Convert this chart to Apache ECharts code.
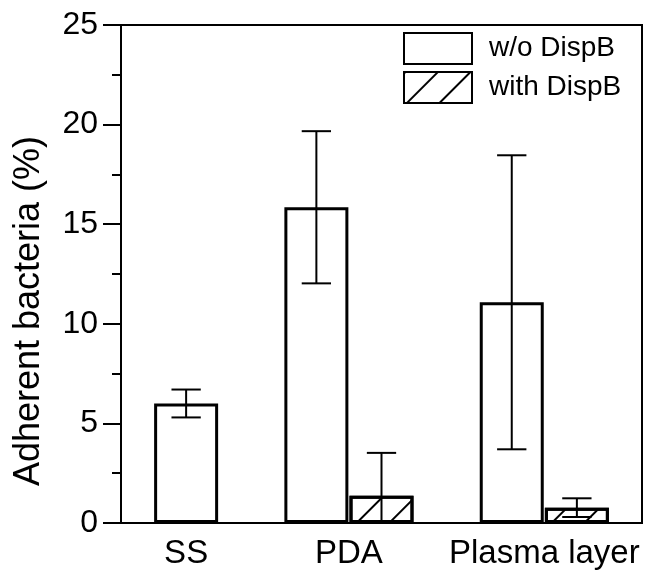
<!DOCTYPE html>
<html>
<head>
<meta charset="utf-8">
<script src="https://cdn.jsdelivr.net/npm/echarts@6/dist/echarts.min.js"></script>
<style>
  html, body { margin: 0; padding: 0; background: #fff; }
  #chart { width: 646px; height: 571px; }
</style>
</head>
<body>
<div id="chart"></div>
<script>
// groups and where their labels / bars sit on the x scale (bar width = 1 unit)
const categories = ['SS', 'PDA', 'Plasma layer'];
const labelPos = [1, 3.5, 6.5];
const woPos = [1, 3, 6];
const withPos = [2, 4, 7];

// adherent bacteria (%), mean and error
const woMean = [6.0, 15.85, 11.08];
const woErr = [0.7, 3.82, 7.38];
const withMean = [0, 1.37, 0.77];
const withErr = [0, 2.15, 0.47];

const seriesNames = ['w/o DispB', 'with DispB'];
const font = 'Liberation Sans, Arial, sans-serif';

const chart = echarts.init(document.getElementById('chart'));

// error bars: vertical whisker + two caps
function renderErr(params, api) {
  const x = api.value(0), m = api.value(1), e = api.value(2);
  if (!e) return null;
  const top = api.coord([x, m + e]);
  const bot = api.coord([x, m - e]);
  const half = api.size([0.225, 0])[0];
  const st = { stroke: '#000', lineWidth: 2 };
  return {
    type: 'group',
    children: [
      { type: 'line', shape: { x1: top[0], y1: top[1], x2: bot[0], y2: bot[1] }, style: st },
      { type: 'line', shape: { x1: top[0] - half, y1: top[1], x2: top[0] + half, y2: top[1] }, style: st },
      { type: 'line', shape: { x1: bot[0] - half, y1: bot[1], x2: bot[0] + half, y2: bot[1] }, style: st }
    ]
  };
}

const hatch = {
  symbol: 'rect',
  symbolSize: 1,
  color: '#000',
  dashArrayX: [1, 0],
  dashArrayY: [2, 21],
  rotation: -Math.PI / 4
};

// a zero bar is not drawn in the original
const barPoint = (x, v) => [x, v === 0 ? '-' : v];

const option = {
  animation: false,
  backgroundColor: '#fff',
  grid: {
    left: 121, right: 4, top: 25, bottom: 48,
    show: true, borderColor: '#000', borderWidth: 2, backgroundColor: 'transparent'
  },
  legend: {
    orient: 'vertical',
    left: 403, top: 32,
    padding: 0,
    itemWidth: 68, itemHeight: 31, itemGap: 6,
    icon: 'rect',
    data: seriesNames,
    textStyle: { fontFamily: font, fontSize: 28, color: '#000', padding: [0, 0, 0, 12] }
  },
  xAxis: {
    type: 'value',
    min: 0, max: 8,
    axisLine: { lineStyle: { color: '#000', width: 2 } },
    axisTick: { show: false },
    splitLine: { show: false },
    axisLabel: {
      customValues: labelPos,
      formatter: v => categories[labelPos.indexOf(v)] || '',
      fontFamily: font, fontSize: 33, color: '#000', margin: 14
    }
  },
  yAxis: {
    type: 'value',
    min: 0, max: 25, interval: 5,
    name: 'Adherent bacteria (%)',
    nameLocation: 'middle',
    nameGap: 74,
    nameTextStyle: { fontFamily: font, fontSize: 36, color: '#000', padding: [0, 74, 0, 0] },
    axisLine: { show: true, lineStyle: { color: '#000', width: 2 } },
    axisTick: { show: true, length: 18, lineStyle: { color: '#000', width: 2 } },
    minorTick: { show: true, splitNumber: 2, length: 9, lineStyle: { color: '#000', width: 2 } },
    splitLine: { show: false },
    axisLabel: { fontFamily: font, fontSize: 32, color: '#000', margin: 23 }
  },
  series: [
    {
      name: seriesNames[0],
      type: 'bar',
      barWidth: 64,
      barGap: '-100%',
      data: woPos.map((x, i) => barPoint(x, woMean[i])),
      itemStyle: { color: '#fff', borderColor: '#000', borderWidth: 3 }
    },
    {
      name: seriesNames[1],
      type: 'bar',
      barWidth: 64,
      barGap: '-100%',
      data: withPos.map((x, i) => barPoint(x, withMean[i])),
      itemStyle: { color: '#fff', borderColor: '#000', borderWidth: 3, decal: hatch }
    },
    {
      type: 'custom',
      renderItem: renderErr,
      clip: true,
      z: 5,
      data: woPos.map((x, i) => [x, woMean[i], woErr[i]])
    },
    {
      type: 'custom',
      renderItem: renderErr,
      clip: true,
      z: 5,
      data: withPos.map((x, i) => [x, withMean[i], withErr[i]])
    }
  ]
};

chart.setOption(option);
</script>
</body>
</html>
